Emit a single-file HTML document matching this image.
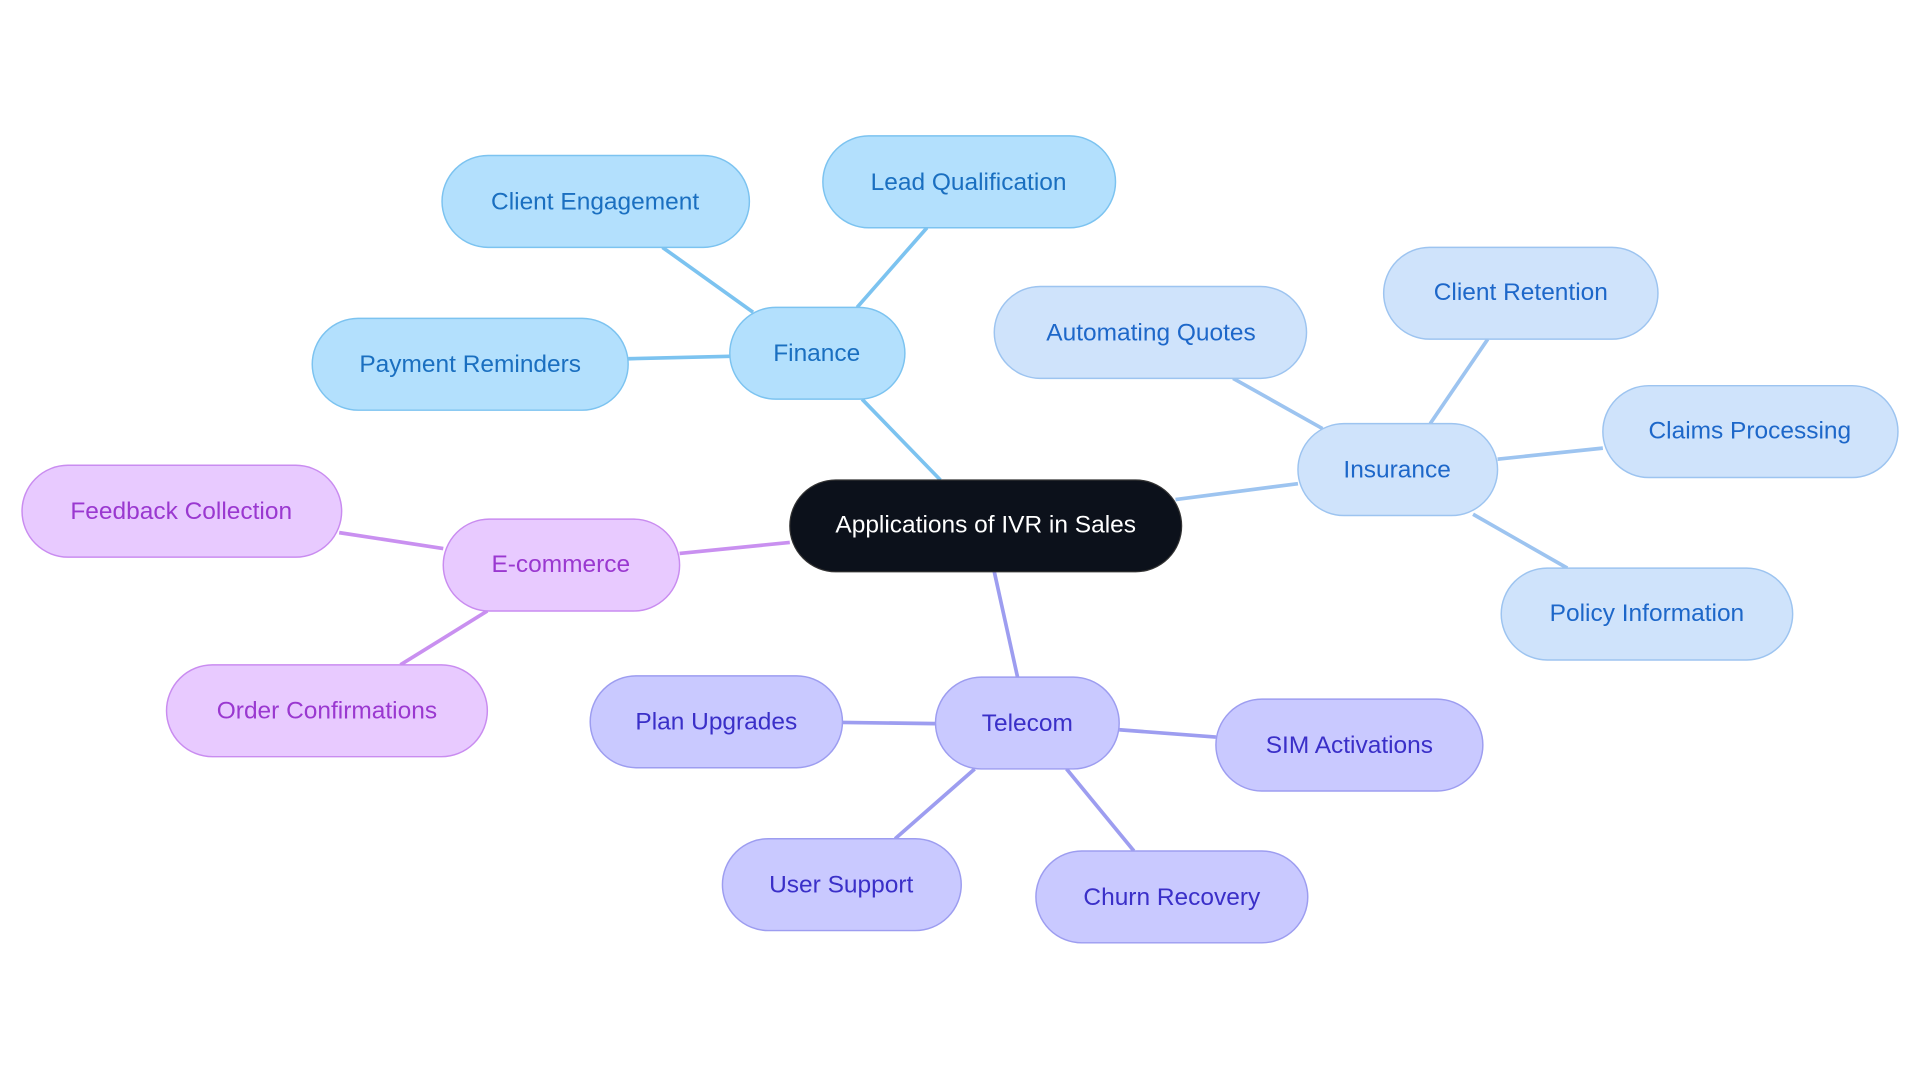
<!DOCTYPE html>
<html><head><meta charset="utf-8"><style>html,body{margin:0;padding:0;background:#fff;}svg{display:block}</style></head>
<body>
<svg width="1920" height="1083" viewBox="0 0 1568 884.5" preserveAspectRatio="none" xmlns="http://www.w3.org/2000/svg" font-family="Liberation Sans, sans-serif" font-size="20" text-anchor="middle">
<g stroke-width="3" fill="none">
<g stroke="#7cc3f0">
<line x1="768" y1="392" x2="704" y2="326"/><line x1="700" y1="251" x2="757" y2="186"/><line x1="615" y1="255" x2="541" y2="202"/><line x1="596" y1="291" x2="513" y2="293"/>
</g>
<g stroke="#9dc4f0">
<line x1="960" y1="408" x2="1060" y2="395"/><line x1="1080" y1="350" x2="1007" y2="309"/><line x1="1168" y1="346" x2="1215" y2="277"/><line x1="1223" y1="375" x2="1309" y2="366"/><line x1="1203" y1="420" x2="1280" y2="464"/>
</g>
<g stroke="#c990f0">
<line x1="645" y1="443" x2="555" y2="452"/><line x1="362" y1="448" x2="277" y2="435"/><line x1="398" y1="499" x2="327" y2="543"/>
</g>
<g stroke="#9d9df0">
<line x1="812" y1="467" x2="831" y2="553"/><line x1="764" y1="591" x2="688" y2="590"/><line x1="914" y1="596" x2="993" y2="602"/><line x1="796" y1="628" x2="731" y2="685"/><line x1="871" y1="628" x2="926" y2="695"/>
</g>
</g>
<rect x="645" y="392" width="320" height="75" rx="37.5" fill="#0c111b" stroke="#333"/>
<text x="805" y="435" fill="#fff">Applications of IVR in Sales</text>
<g fill="#b3e0fd" stroke="#7cc3f0" stroke-width="1.2">
<rect x="596" y="251" width="143" height="75" rx="37.5"/><rect x="672" y="111" width="239" height="75" rx="37.5"/><rect x="361" y="127" width="251" height="75" rx="37.5"/><rect x="255" y="260" width="258" height="75" rx="37.5"/>
</g>
<g fill="#1a6fc0"><text x="667" y="295">Finance</text><text x="791" y="155">Lead Qualification</text><text x="486" y="171">Client Engagement</text><text x="384" y="304">Payment Reminders</text></g>
<g fill="#cfe3fb" stroke="#9dc4f0" stroke-width="1.2">
<rect x="1060" y="346" width="163" height="75" rx="37.5"/><rect x="812" y="234" width="255" height="75" rx="37.5"/><rect x="1130" y="202" width="224" height="75" rx="37.5"/><rect x="1309" y="315" width="241" height="75" rx="37.5"/><rect x="1226" y="464" width="238" height="75" rx="37.5"/>
</g>
<g fill="#1d67c9"><text x="1141" y="390">Insurance</text><text x="940" y="278">Automating Quotes</text><text x="1242" y="245">Client Retention</text><text x="1429" y="358">Claims Processing</text><text x="1345" y="507">Policy Information</text></g>
<g fill="#e8caff" stroke="#c98cf0" stroke-width="1.2">
<rect x="362" y="424" width="193" height="75" rx="37.5"/><rect x="18" y="380" width="261" height="75" rx="37.5"/><rect x="136" y="543" width="262" height="75" rx="37.5"/>
</g>
<g fill="#9a38d0"><text x="458" y="467">E-commerce</text><text x="148" y="424">Feedback Collection</text><text x="267" y="587">Order Confirmations</text></g>
<g fill="#c9c9ff" stroke="#9d9df0" stroke-width="1.2">
<rect x="764" y="553" width="150" height="75" rx="37.5"/><rect x="482" y="552" width="206" height="75" rx="37.5"/><rect x="993" y="571" width="218" height="75" rx="37.5"/><rect x="590" y="685" width="195" height="75" rx="37.5"/><rect x="846" y="695" width="222" height="75" rx="37.5"/>
</g>
<g fill="#3a2fc8"><text x="839" y="597">Telecom</text><text x="585" y="596">Plan Upgrades</text><text x="1102" y="615">SIM Activations</text><text x="687" y="729">User Support</text><text x="957" y="739">Churn Recovery</text></g>
</svg>
</body></html>
